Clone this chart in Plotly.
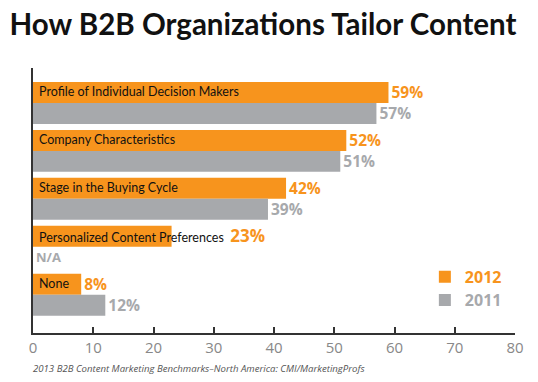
import plotly.graph_objects as go

categories = ["Profile of Individual Decision Makers", "Company Characteristics",
              "Stage in the Buying Cycle", "Personalized Content Preferences", "None"]
values_2012 = [59, 52, 42, 23, 8]
values_2011 = [57, 51, 39, 0, 12]
labels_2012 = ["59%", "52%", "42%", "23%", "8%"]
labels_2011 = ["57%", "51%", "39%", "N/A", "12%"]
x_ticks = [0, 10, 20, 30, 40, 50, 60, 70, 80]

ORANGE = "#F7941D"
GRAY = "#A7A9AC"
LABEL_FONT = "Lato, Roboto, sans-serif"
VAL_FONT = "Open Sans, sans-serif"

# value label after the category text for the bar whose label overflows it
inline_idx = 3
bar_text_2012 = [("" if i == inline_idx else t) for i, t in enumerate(labels_2012)]
sizes_2011 = [13 if t == "N/A" else 17 for t in labels_2011]

fig = go.Figure()
fig.add_trace(go.Bar(
    y=categories, x=values_2012, orientation="h", name="2012",
    marker=dict(color=ORANGE, line=dict(width=0)),
    text=bar_text_2012, textposition="outside", cliponaxis=False,
    textfont=dict(color=ORANGE, size=17, family=VAL_FONT, weight="bold"),
    legend="legend",
))
fig.add_trace(go.Bar(
    y=categories, x=values_2011, orientation="h", name="2011",
    marker=dict(color=GRAY, line=dict(width=0)),
    text=labels_2011, textposition="outside", cliponaxis=False,
    textfont=dict(color=GRAY, size=sizes_2011, family=VAL_FONT, weight="bold"),
    legend="legend2",
))

for i, c in enumerate(categories):
    txt = c
    if i == inline_idx:
        txt = (c + "  <span style='color:%s;font-size:17px;font-family:Open Sans'><b>%s</b></span>"
               % (ORANGE, labels_2012[i]))
    fig.add_annotation(x=0, y=c, xref="x", yref="y", yshift=11, xshift=4,
                       text=txt, showarrow=False, xanchor="left", yanchor="middle",
                       font=dict(size=12.5, color="#111", family=LABEL_FONT))

# page body has an 8px margin: figure is sized / offset to compensate (no scrollbars)
fig.update_layout(
    width=522, height=366,
    margin=dict(l=25, r=15, t=60, b=41, autoexpand=False),
    paper_bgcolor="white", plot_bgcolor="white",
    barmode="group", bargap=0.125, bargroupgap=0,
    showlegend=True,
    legend=dict(x=0.813, y=0.212, xanchor="left", yanchor="middle",
                font=dict(color=ORANGE, size=16, family=VAL_FONT, weight="bold"),
                bgcolor="rgba(0,0,0,0)", itemwidth=30),
    legend2=dict(x=0.813, y=0.124, xanchor="left", yanchor="middle",
                 font=dict(color=GRAY, size=16, family=VAL_FONT, weight="bold"),
                 bgcolor="rgba(0,0,0,0)", itemwidth=30),
    title=dict(text="<b>How B2B Organizations Tailor Content</b>", x=0.003, xanchor="left",
               y=0.984, yanchor="top",
               font=dict(size=29.5, color="#111", family=LABEL_FONT)),
    xaxis=dict(range=[0, 80], tickvals=x_ticks, showgrid=False, zeroline=False,
               showline=True, linecolor="#333", linewidth=2, automargin=False,
               ticks="inside", ticklen=6, tickwidth=1.5, tickcolor="#333",
               tickfont=dict(size=15, color="#888", family=VAL_FONT)),
    yaxis=dict(range=[4.8, -0.73], showticklabels=False, showgrid=False, zeroline=False,
               showline=True, linecolor="#333", linewidth=2, ticks="", automargin=False),
)
fig.add_annotation(x=0, y=-0.134, xref="paper", yref="paper", xanchor="left", yanchor="middle",
                   xshift=-2,
                   text="<i>2013 B2B Content Marketing Benchmarks–North America: CMI/MarketingProfs</i>",
                   showarrow=False, font=dict(size=9.6, color="#555", family=VAL_FONT))

fig.write_html("out.html")
